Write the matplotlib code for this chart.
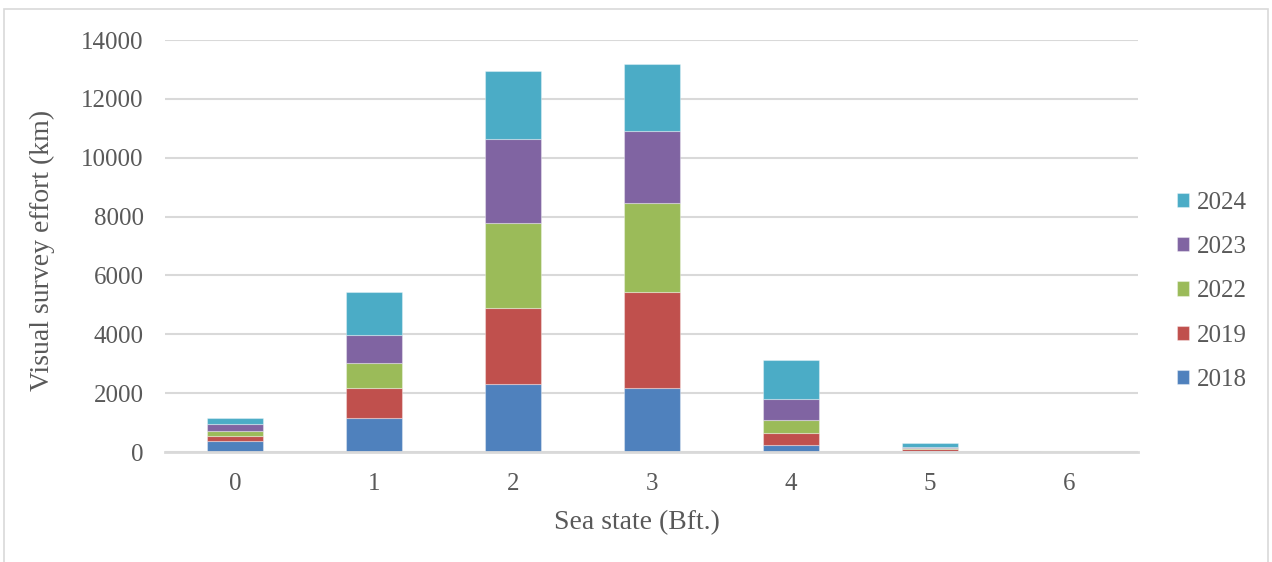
import matplotlib.pyplot as plt
import numpy as np
from matplotlib.patches import Rectangle

plt.rcParams['font.family'] = ['Liberation Serif', 'DejaVu Serif']

# Visual survey effort (km) per sea state, stacked by year
sea_states = ['0', '1', '2', '3', '4', '5', '6']
years = ['2018', '2019', '2022', '2023', '2024']
effort_2018 = [374, 1155, 2311, 2186, 238, 30, 0]
effort_2019 = [170, 1031, 2593, 3251, 396, 60, 0]
effort_2022 = [170, 849, 2888, 3035, 442, 35, 25]
effort_2023 = [230, 941, 2854, 2446, 736, 50, 0]
effort_2024 = [215, 1461, 2311, 2256, 1310, 115, 0]
series = [effort_2018, effort_2019, effort_2022, effort_2023, effort_2024]
colors = ['#4F81BD', '#C0504D', '#9BBB59', '#8064A2', '#4BACC6']

fig = plt.figure(figsize=(12.72, 5.62), dpi=100)
ax = fig.add_axes([0.130, 0.1957, 0.765, 0.7331])

# light frame round the whole chart
fig.patches.append(Rectangle((4 / 1272, -0.01), 1264 / 1272, 1 - 9 / 562 + 0.01,
                             transform=fig.transFigure, fill=False,
                             edgecolor='#d9d9d9', linewidth=1.2))

x = np.arange(len(sea_states))
bottom = np.zeros(len(sea_states))
for year, vals, c in zip(years, series, colors):
    ax.bar(x, vals, width=0.4, bottom=bottom, color=c, label=year,
           edgecolor=(1, 1, 1, 0.35), linewidth=0.8, zorder=3)
    bottom += np.array(vals)

ax.set_xlim(-0.5, len(sea_states) - 0.5)
ax.set_ylim(0, 14000)
ax.set_yticks(np.arange(0, 14001, 2000))
ax.set_xticks(x)
ax.set_xticklabels(sea_states)
ax.yaxis.grid(True, color='#d9d9d9', linewidth=1.5, zorder=0)
ax.set_axisbelow(True)
for side in ['top', 'right', 'left']:
    ax.spines[side].set_visible(False)
ax.spines['bottom'].set_color('#d9d9d9')
ax.spines['bottom'].set_linewidth(2)
ax.spines['bottom'].set_zorder(4)
ax.tick_params(length=0, labelsize=18, labelcolor='#595959')
ax.tick_params(axis='y', pad=15.5)
ax.tick_params(axis='x', pad=15)

ax.set_ylabel('Visual survey effort (km)', fontsize=20, color='#595959')
ax.set_xlabel('Sea state (Bft.)', fontsize=20, color='#595959')
ax.yaxis.set_label_coords(-0.113, 0.49)
ax.xaxis.set_label_coords(0.485, -0.14)

handles, labels = ax.get_legend_handles_labels()
leg = ax.legend(handles[::-1], labels[::-1], loc='center left',
                bbox_to_anchor=(1.016, 0.39), frameon=False, fontsize=18,
                labelcolor='#595959', handlelength=0.5, handleheight=0.5,
                handletextpad=0.3, labelspacing=0.89)

plt.savefig('out.png', dpi=100)
